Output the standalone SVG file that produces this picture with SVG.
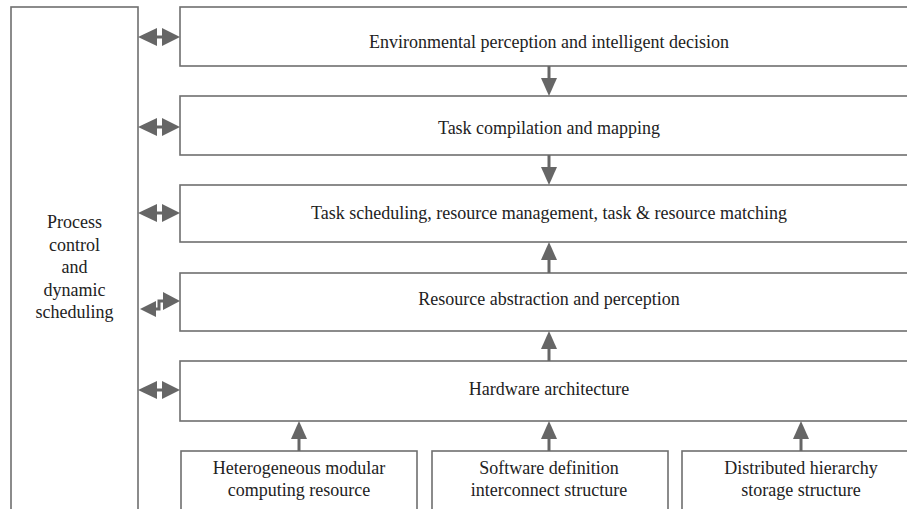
<svg xmlns="http://www.w3.org/2000/svg" width="907" height="509" viewBox="0 0 907 509">
  <style>
    .box { fill: #ffffff; stroke: #6f6f6f; stroke-width: 1.6; }
    .lbl { font-size: 18px; fill: #222222; text-anchor: middle; }
    .shaft { stroke: #666666; stroke-width: 3; fill: none; }
    .head { fill: #666666; stroke: none; }
  </style>
  <rect width="907" height="509" fill="#ffffff"/>

  <g id="process-control">
    <rect class="box" x="11" y="7" width="127" height="520"/>
    <text class="lbl" style="font-family: 'Liberation Serif', serif"><tspan x="74.5" y="228">Process</tspan><tspan x="74.5" y="250.5">control</tspan><tspan x="74.5" y="273">and</tspan><tspan x="74.5" y="295.5">dynamic</tspan><tspan x="74.5" y="318">scheduling</tspan></text>
  </g>

  <g id="perception-decision">
    <rect class="box" x="180" y="7" width="740" height="59"/>
    <text class="lbl" style="font-family: 'Liberation Serif', serif" x="549" y="48">Environmental perception and intelligent decision</text>
  </g>
  <g id="task-compilation">
    <rect class="box" x="180" y="96" width="740" height="59"/>
    <text class="lbl" style="font-family: 'Liberation Serif', serif" x="549" y="134">Task compilation and mapping</text>
  </g>
  <g id="task-scheduling">
    <rect class="box" x="180" y="185" width="740" height="57"/>
    <text class="lbl" style="font-family: 'Liberation Serif', serif" x="549" y="219">Task scheduling, resource management, task &amp; resource matching</text>
  </g>
  <g id="resource-abstraction">
    <rect class="box" x="180" y="273" width="740" height="58"/>
    <text class="lbl" style="font-family: 'Liberation Serif', serif" x="549" y="305">Resource abstraction and perception</text>
  </g>
  <g id="hardware-architecture">
    <rect class="box" x="180" y="361" width="740" height="60"/>
    <text class="lbl" style="font-family: 'Liberation Serif', serif" x="549" y="395">Hardware architecture</text>
  </g>
  <g id="computing-resource">
    <rect class="box" x="181" y="451" width="236" height="70"/>
    <text class="lbl" style="font-family: 'Liberation Serif', serif"><tspan x="299" y="474">Heterogeneous modular</tspan><tspan x="299" y="496">computing resource</tspan></text>
  </g>
  <g id="interconnect-structure">
    <rect class="box" x="432" y="451" width="236" height="70"/>
    <text class="lbl" style="font-family: 'Liberation Serif', serif"><tspan x="549" y="474">Software definition</tspan><tspan x="549" y="496">interconnect structure</tspan></text>
  </g>
  <g id="storage-structure">
    <rect class="box" x="682" y="451" width="240" height="70"/>
    <text class="lbl" style="font-family: 'Liberation Serif', serif"><tspan x="801" y="474">Distributed hierarchy</tspan><tspan x="801" y="496">storage structure</tspan></text>
  </g>

  <g id="connectors">
    <!-- two-way links between the control column and each layer -->
    <g>
      <line class="shaft" x1="152" y1="37" x2="166" y2="37"/>
      <path class="head" d="M138,37 L157,28 L157,46 Z"/>
      <path class="head" d="M180,37 L162,28 L162,46 Z"/>

      <line class="shaft" x1="152" y1="127" x2="166" y2="127"/>
      <path class="head" d="M138,127 L157,118 L157,136 Z"/>
      <path class="head" d="M180,127 L162,118 L162,136 Z"/>

      <line class="shaft" x1="152" y1="213" x2="166" y2="213"/>
      <path class="head" d="M138,213 L157,204 L157,222 Z"/>
      <path class="head" d="M180,213 L162,204 L162,222 Z"/>

      <path class="shaft" d="M152,309 H159 V301 H166"/>
      <path class="head" d="M140,309 L156,301 L156,317 Z"/>
      <path class="head" d="M180,301 L163,292 L163,310 Z"/>

      <line class="shaft" x1="152" y1="390" x2="166" y2="390"/>
      <path class="head" d="M138,390 L157,381 L157,399 Z"/>
      <path class="head" d="M180,390 L162,381 L162,399 Z"/>
    </g>
    <!-- flow between layers -->
    <g>
      <line class="shaft" x1="549" y1="66" x2="549" y2="82"/>
      <path class="head" d="M549,96 L541,78 L557,78 Z"/>

      <line class="shaft" x1="549" y1="155" x2="549" y2="171"/>
      <path class="head" d="M549,185 L541,167 L557,167 Z"/>

      <line class="shaft" x1="549" y1="273" x2="549" y2="256"/>
      <path class="head" d="M549,242 L541,260 L557,260 Z"/>

      <line class="shaft" x1="549" y1="361" x2="549" y2="345"/>
      <path class="head" d="M549,331 L541,349 L557,349 Z"/>

      <line class="shaft" x1="299" y1="451" x2="299" y2="435"/>
      <path class="head" d="M299,421 L291,439 L307,439 Z"/>

      <line class="shaft" x1="549" y1="451" x2="549" y2="435"/>
      <path class="head" d="M549,421 L541,439 L557,439 Z"/>

      <line class="shaft" x1="801" y1="451" x2="801" y2="435"/>
      <path class="head" d="M801,421 L793,439 L809,439 Z"/>
    </g>
  </g>
</svg>
